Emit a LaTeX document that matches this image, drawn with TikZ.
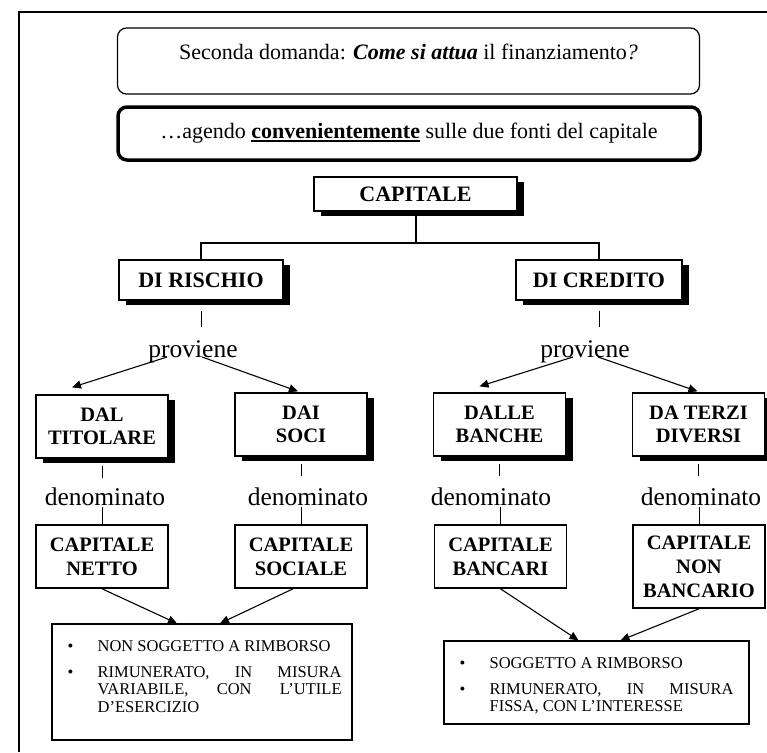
\documentclass[tikz,border=0pt]{standalone}
\usepackage{fontspec}
\setmainfont{Liberation Serif}
\usetikzlibrary{arrows.meta,shadows}

\newcommand{\sottolineato}[1]{\setbox0\hbox{#1}\rlap{\rule[-3pt]{\wd0}{1.6pt}}\box0\relax}

\tikzset{
	cornice/.style={line width=1.2pt},
	riquadro/.style={draw, rounded corners=9pt, minimum width=582pt, font=\fontsize{22}{26}\selectfont},
	ombra/.style={drop shadow={shadow xshift=7pt, shadow yshift=-5pt, opacity=1, fill=black}},
	scatola/.style={draw, line width=1.3pt, fill=white, ombra, align=center, inner sep=2pt, font=\bfseries\fontsize{22}{26}\selectfont},
	fonte/.style={scatola, minimum width=132pt, minimum height=63pt, font=\bfseries\fontsize{20.5}{23}\selectfont},
	casella/.style={draw, line width=1.6pt, fill=white, align=center, inner sep=2pt, minimum width=132pt, minimum height=63pt, font=\bfseries\fontsize{20.5}{24}\selectfont},
	parola/.style={inner sep=0pt, anchor=base, font=\fontsize{25.5}{28}\selectfont},
	rettangolo/.style={draw, line width=1.2pt},
	elenco/.style={inner sep=0pt, anchor=north west, font=\fontsize{16.5}{17.5}\selectfont},
	ramo/.style={line width=2pt},
	filo/.style={line width=0.8pt},
	freccia/.style={line width=1.1pt, -{Triangle[length=9pt,width=8pt]}}
}

\begin{document}
\begin{tikzpicture}[x=1pt,y=-1pt]
	\useasboundingbox (0,0) rectangle (767,752);
	\draw[cornice] (19,752) -- (19,12) -- (767,12);

	\node[riquadro, line width=1.2pt, minimum height=66pt] (domanda) at (408.5,61) {};
	\node[font=\fontsize{22}{26}\selectfont] (domandatesto) at ([yshift=-25pt]domanda.north) {Seconda domanda: \textbf{\textit{Come si attua}} il finanziamento\textit{?}};
	\node[riquadro, line width=3.5pt, minimum height=53pt] (agendo) at (409,133.5) {…agendo \sottolineato{\textbf{convenientemente}} sulle due fonti del capitale};

	\node[scatola, minimum width=203pt, minimum height=34pt] (capitale) at (415.5,194) {CAPITALE};
	\node[scatola, minimum width=164pt, minimum height=40pt] (rischio) at (201,280) {DI RISCHIO};
	\node[scatola, minimum width=166pt, minimum height=40pt] (credito) at (599,280) {DI CREDITO};

	\coordinate (snodo) at (415.5,243);
	\draw[ramo] (capitale.south) -- (snodo);
	\draw[ramo] (rischio.north) |- (snodo) -| (credito.north);

	\draw[filo] (rischio.south) ++(0,10) -- ++(0,16);
	\draw[filo] (credito.south) ++(0,10) -- ++(0,16);
	\node[parola] (prov1) at (193,357) {proviene};
	\node[parola] (prov2) at (585,357) {proviene};

	\node[fonte] (titolare) at (102,426.5) {DAL\\TITOLARE};
	\node[fonte] (soci) at (301,424.5) {DAI\\SOCI};
	\node[fonte] (banche) at (499.5,424.5) {DALLE\\BANCHE};
	\node[fonte] (terzi) at (698.5,424.5) {DA TERZI\\DIVERSI};

	\draw[freccia] ([xshift=-26pt]prov1.base) -- ([xshift=-30pt,yshift=7pt]titolare.north);
	\draw[freccia] ([xshift=9pt]prov1.base) -- ([xshift=-3pt,yshift=1pt]soci.north);
	\draw[freccia] ([xshift=-12pt]prov2.base) -- ([xshift=-20pt,yshift=6pt]banche.north);
	\draw[freccia] ([xshift=13pt]prov2.base) -- ([xshift=-1pt,yshift=1pt]terzi.north);

	\draw[filo] (titolare.south) ++(0,7) -- ++(0,12);
	\draw[filo] (soci.south) ++(0,7) -- ++(0,12);
	\draw[filo] (banche.south) ++(0,7) -- ++(0,12);
	\draw[filo] (terzi.south) ++(0,7) -- ++(0,12);
	\node[parola] (den1) at (105,505) {denominato};
	\node[parola] (den2) at (308,505) {denominato};
	\node[parola] (den3) at (491,505) {denominato};
	\node[parola] (den4) at (701,505) {denominato};

	\node[casella] (netto) at (102,556.5) {CAPITALE\\NETTO};
	\node[casella] (sociale) at (301,556.5) {CAPITALE\\SOCIALE};
	\node[casella] (bancari) at (500.5,556.5) {CAPITALE\\BANCARI};
	\node[casella, minimum height=83pt] (nonbancario) at (699,566.5) {CAPITALE\\NON\\BANCARIO};
	\draw[filo] (netto.north) -- ++(0,-17);
	\draw[filo] (sociale.north) -- ++(0,-17);
	\draw[filo] (bancari.north) -- ++(0,-17);
	\draw[filo] (nonbancario.north) -- ++(0,-17);

	\node[rettangolo, minimum width=300pt, minimum height=116pt] (rett1) at (202,682) {};
	\node[rettangolo, minimum width=305pt, minimum height=83pt] (rett2) at (596.5,682.5) {};
	\node[elenco] (lista1) at ([xshift=16pt,yshift=-16pt]rett1.north west) {%
		\begin{tabular}{@{}p{22pt}@{\hspace{8pt}}p{244pt}@{}}
			\textbullet & NON SOGGETTO A RIMBORSO\\[8pt]
			\textbullet & RIMUNERATO, IN MISURA\linebreak VARIABILE, CON L’UTILE\linebreak D’ESERCIZIO
		\end{tabular}};
	\node[elenco] (lista2) at ([xshift=16pt,yshift=-16pt]rett2.north west) {%
		\begin{tabular}{@{}p{22pt}@{\hspace{8pt}}p{244pt}@{}}
			\textbullet & SOGGETTO A RIMBORSO\\[8pt]
			\textbullet & RIMUNERATO, IN MISURA\linebreak FISSA, CON L’INTERESSE
		\end{tabular}};

	\draw[freccia] (netto.south) -- ([xshift=-25pt]rett1.north);
	\draw[freccia] ([xshift=-8pt]sociale.south) -- ([xshift=18pt]rett1.north);
	\draw[freccia] (bancari.south) -- ([xshift=-18pt]rett2.north);
	\draw[freccia] (nonbancario.south) -- ([xshift=24pt]rett2.north);
\end{tikzpicture}
\end{document}
